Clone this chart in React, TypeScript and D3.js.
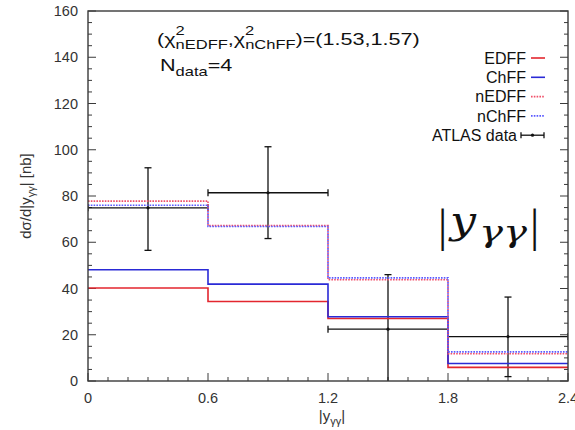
import React from "react";
import * as d3 from "d3";

// Rapidity bins of the diphoton system
const binEdges = [0, 0.6, 1.2, 1.8, 2.4];

// Model predictions per bin [nb]
const edff = [40.2, 34.4, 27.0, 5.9];
const chff = [48.1, 41.9, 27.8, 7.6];
const nedff = [77.8, 67.2, 43.8, 11.8];
const nchff = [76.0, 66.8, 44.6, 12.6];

// ATLAS measurement
const atlasX = [0.3, 0.9, 1.5, 2.1];
const atlasY = [74.9, 81.4, 22.4, 19.2];
const atlasErrUp = [17.3, 19.9, 23.6, 17.1];
const atlasErrDown = [18.4, 19.8, 25.0, 17.3];

const xTicks = [0, 0.6, 1.2, 1.8, 2.4];
const xTickLabels = ["0", "0.6", "1.2", "1.8", "2.4"];
const yTicks = [0, 20, 40, 60, 80, 100, 120, 140, 160];

const W = 575;
const H = 430;
const left = 88;
const right = 568;
const top = 11;
const bottom = 381;

const RED = "#e3262e";
const BLUE = "#2a2ad6";
const RED_DOT = "#f0506a";
const BLUE_DOT = "#5a5aff";
const AXIS = "#3a3a3a";
const SANS = "'Liberation Sans', Arial, Helvetica, sans-serif";
const SERIF = "'DejaVu Serif', 'Liberation Serif', serif";
const THIN_SERIF = "'Liberation Serif', serif";

export default function App() {
  const x = d3.scaleLinear().domain([0, 2.4]).range([left, right]);
  const y = d3.scaleLinear().domain([0, 160]).range([bottom, top]);

  const step = d3
    .line<[number, number]>()
    .x((d) => x(d[0]))
    .y((d) => y(d[1]))
    .curve(d3.curveStepAfter);

  const stepPts = (vals: number[]): [number, number][] => {
    const pts: [number, number][] = vals.map((v, i) => [binEdges[i], v]);
    pts.push([binEdges[binEdges.length - 1], vals[vals.length - 1]]);
    return pts;
  };

  const series = [
    { name: "EDFF", vals: edff, color: RED, dash: undefined as string | undefined },
    { name: "ChFF", vals: chff, color: BLUE, dash: undefined as string | undefined },
    { name: "nEDFF", vals: nedff, color: RED_DOT, dash: "1.6,1.2" },
    { name: "nChFF", vals: nchff, color: BLUE_DOT, dash: "1.6,1.2" },
  ];

  const yMinor = d3.range(0, 160.01, 5);
  const xMinor = d3.range(0, 2.401, 0.1);
  const cap = 3.5;

  return (
    <svg
      width={W}
      height={H}
      style={{ position: "absolute", left: 0, top: 0, background: "#fff" }}
    >
      <defs>
        <clipPath id="plotArea">
          <rect x={left} y={top} width={right - left} height={bottom - top} />
        </clipPath>
      </defs>

      {/* minor and major ticks, left and right */}
      {yMinor.map((v) => {
        const major = v % 20 === 0;
        const len = major ? 8 : 4;
        return (
          <g key={"yt" + v} stroke={AXIS} strokeWidth={1}>
            <line x1={left} x2={left + len} y1={y(v)} y2={y(v)} />
            <line x1={right} x2={right - len} y1={y(v)} y2={y(v)} />
          </g>
        );
      })}
      {xMinor.map((v, i) => {
        const major = i % 6 === 0;
        const len = major ? 8 : 4;
        return (
          <line
            key={"xt" + i}
            x1={x(v)}
            x2={x(v)}
            y1={bottom}
            y2={bottom - len}
            stroke={AXIS}
            strokeWidth={1}
          />
        );
      })}

      {/* tick labels */}
      {yTicks.map((v) => (
        <text
          key={"yl" + v}
          x={78}
          y={y(v)}
          dy="0.36em"
          textAnchor="end"
          fontFamily={SANS}
          fontSize={14.5}
          fill="#333"
        >
          {v}
        </text>
      ))}
      {xTicks.map((v, i) => (
        <text
          key={"xl" + v}
          x={x(v)}
          y={403}
          textAnchor="middle"
          fontFamily={SANS}
          fontSize={14.5}
          fill="#333"
        >
          {xTickLabels[i]}
        </text>
      ))}

      <g clipPath="url(#plotArea)">
        {/* ATLAS data with bin-width and uncertainty bars */}
        {atlasX.map((cx, i) => {
          const x0 = x(binEdges[i]);
          const x1 = x(binEdges[i + 1]);
          const yc = y(atlasY[i]);
          const yu = y(atlasY[i] + atlasErrUp[i]);
          const yd = y(atlasY[i] - atlasErrDown[i]);
          const px = x(cx);
          return (
            <g key={"d" + i} stroke="#111" strokeWidth={1.3} fill="none">
              <line x1={x0} x2={x1} y1={yc} y2={yc} />
              <line x1={x0} x2={x0} y1={yc - cap} y2={yc + cap} />
              <line x1={x1} x2={x1} y1={yc - cap} y2={yc + cap} />
              <line x1={px} x2={px} y1={yu} y2={yd} />
              <line x1={px - cap} x2={px + cap} y1={yu} y2={yu} />
              <line x1={px - cap} x2={px + cap} y1={yd} y2={yd} />
              <circle cx={px} cy={yc} r={1.6} fill="#111" stroke="none" />
            </g>
          );
        })}

        {series.map((s) => (
          <path
            key={s.name}
            d={step(stepPts(s.vals)) || ""}
            fill="none"
            stroke={s.color}
            strokeWidth={1.6}
            strokeDasharray={s.dash}
          />
        ))}
      </g>

      {/* frame */}
      <rect
        x={left}
        y={top}
        width={right - left}
        height={bottom - top}
        fill="none"
        stroke={AXIS}
        strokeWidth={1.4}
      />

      {/* legend */}
      {series.map((s, i) => {
        const ly = 58 + i * 19.3;
        return (
          <g key={"lg" + s.name}>
            <text
              x={526}
              y={ly}
              dy="0.36em"
              textAnchor="end"
              fontFamily={SANS}
              fontSize={16}
              fill="#111"
            >
              {s.name}
            </text>
            <line
              x1={531}
              x2={545}
              y1={ly}
              y2={ly}
              stroke={s.color}
              strokeWidth={1.6}
              strokeDasharray={s.dash}
            />
          </g>
        );
      })}
      {(() => {
        const ly = 58 + 4 * 19.3;
        return (
          <g>
            <text
              x={517}
              y={ly}
              dy="0.36em"
              textAnchor="end"
              fontFamily={SANS}
              fontSize={16}
              fill="#111"
            >
              ATLAS data
            </text>
            <g stroke="#111" strokeWidth={1.3}>
              <line x1={521} x2={544} y1={ly} y2={ly} />
              <line x1={521} x2={521} y1={ly - 3} y2={ly + 3} />
              <line x1={544} x2={544} y1={ly - 3} y2={ly + 3} />
            </g>
            <circle cx={532.5} cy={ly} r={1.6} fill="#111" />
          </g>
        );
      })()}

      {/* fit quality annotation */}
      <g transform="translate(157,45) scale(1.27,1)">
        <text x={0} y={0} fontFamily={SANS} fontSize={17} fill="#111">
          <tspan>(χ</tspan>
          <tspan fontSize={13} dy={-10}>2</tspan>
          <tspan fontSize={13} dx={-7.2} dy={14}>nEDFF</tspan>
          <tspan dy={-4}>,χ</tspan>
          <tspan fontSize={13} dy={-10}>2</tspan>
          <tspan fontSize={13} dx={-7.2} dy={14}>nChFF</tspan>
          <tspan dy={-4}>)=(1.53,1.57)</tspan>
        </text>
      </g>
      <g transform="translate(160,71) scale(1.27,1)">
        <text x={0} y={0} fontFamily={SANS} fontSize={17} fill="#111">
          <tspan>N</tspan>
          <tspan fontSize={13} dy={5}>data</tspan>
          <tspan dy={-5}>=4</tspan>
        </text>
      </g>

      {/* big variable label */}
      <g fill="#111">
        <text x={438} y={241} fontSize={46} fontFamily={THIN_SERIF}>|</text>
        <text
          x={450}
          y={233}
          fontSize={38}
          fontFamily={SERIF}
          fontStyle="italic"
          textLength={26}
          lengthAdjust="spacingAndGlyphs"
        >
          y
        </text>
        <text
          x={479}
          y={242}
          fontSize={30}
          fontFamily={SERIF}
          fontStyle="italic"
          textLength={48}
          lengthAdjust="spacingAndGlyphs"
        >
          γγ
        </text>
        <text x={530} y={241} fontSize={46} fontFamily={THIN_SERIF}>|</text>
      </g>

      {/* axis titles */}
      <text
        x={332}
        y={421}
        textAnchor="middle"
        fontFamily={SANS}
        fontSize={15}
        fill="#333"
      >
        <tspan>|y</tspan>
        <tspan fontSize={11} dy={4}>γγ</tspan>
        <tspan dy={-4}>|</tspan>
      </text>
      <text
        transform="translate(31,196) rotate(-90)"
        textAnchor="middle"
        fontFamily={SANS}
        fontSize={15}
        fill="#333"
      >
        <tspan>dσ/d|y</tspan>
        <tspan fontSize={11} dy={4}>γγ</tspan>
        <tspan dy={-4}>| [nb]</tspan>
      </text>
    </svg>
  );
}
